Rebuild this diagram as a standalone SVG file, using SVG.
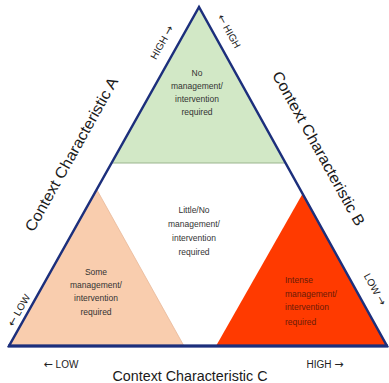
<svg xmlns="http://www.w3.org/2000/svg" width="389" height="383" viewBox="0 0 389 383">
<style>
.in{font-family:"Liberation Sans",Arial,sans-serif;font-size:8.5px;fill:#333333;text-anchor:middle}
.red{fill:#6a1a08;text-anchor:start}
.ax{font-family:"Liberation Sans",Arial,sans-serif;font-size:15.5px;fill:#1a1a1a;text-anchor:middle}
.sm{font-family:"Liberation Sans",Arial,sans-serif;font-size:10px;fill:#222222;text-anchor:middle}
.ar{font-family:"DejaVu Sans",sans-serif;font-size:11px}
</style>
<rect width="389" height="383" fill="#ffffff"/>
<g id="green-zone">
<polygon points="199,7 111.5,163 285.5,163" fill="#d2e8c6" stroke="#9bb58e" stroke-width="1"/>
<text class="in" x="197" y="76">No</text>
<text class="in" x="197" y="89">management/</text>
<text class="in" x="197" y="102">intervention</text>
<text class="in" x="197" y="115">required</text>
</g>
<g id="white-zone">
<text class="in" x="194" y="213">Little/No</text>
<text class="in" x="194" y="227">management/</text>
<text class="in" x="194" y="241">intervention</text>
<text class="in" x="194" y="255">required</text>
</g>
<g id="peach-zone">
<polygon points="97,190 9,346 184,346" fill="#f9cdae" stroke="#e8b898" stroke-width="0.8"/>
<text class="in" x="96" y="275">Some</text>
<text class="in" x="96" y="288">management/</text>
<text class="in" x="96" y="301">intervention</text>
<text class="in" x="96" y="315">required</text>
</g>
<g id="red-zone">
<polygon points="303,193 216,346 387,346" fill="#ff3a00"/>
<text class="in red" x="285" y="283">Intense</text>
<text class="in red" x="285" y="297">management/</text>
<text class="in red" x="285" y="310">intervention</text>
<text class="in red" x="285" y="325">required</text>
</g>
<g id="connectors">
<polygon points="199,7 9,346 387,346" fill="none" stroke="#1c2f7c" stroke-width="2.5" stroke-linejoin="miter"/>
<line x1="8" y1="346" x2="388" y2="346" stroke="#1c2f7c" stroke-width="3"/>
</g>
<g id="labels">
<text class="ax" transform="translate(76,157) rotate(-60.7)" textLength="174" lengthAdjust="spacingAndGlyphs">Context Characteristic A</text>
<text class="ax" transform="translate(314,151) rotate(61)" textLength="174" lengthAdjust="spacingAndGlyphs">Context Characteristic B</text>
<text class="ax" x="190" y="381" textLength="155" lengthAdjust="spacingAndGlyphs">Context Characteristic C</text>
<text class="sm" transform="translate(165,44) rotate(-60.7)">HIGH <tspan class="ar">→</tspan></text>
<text class="sm" transform="translate(226,33) rotate(61)"><tspan class="ar">←</tspan> HIGH</text>
<text class="sm" transform="translate(22,312) rotate(-60.7)"><tspan class="ar">←</tspan> LOW</text>
<text class="sm" transform="translate(372,291) rotate(61)">LOW <tspan class="ar">→</tspan></text>
<text class="sm" x="61" y="368"><tspan class="ar">←</tspan> LOW</text>
<text class="sm" x="325" y="368">HIGH <tspan class="ar">→</tspan></text>
</g>
</svg>
